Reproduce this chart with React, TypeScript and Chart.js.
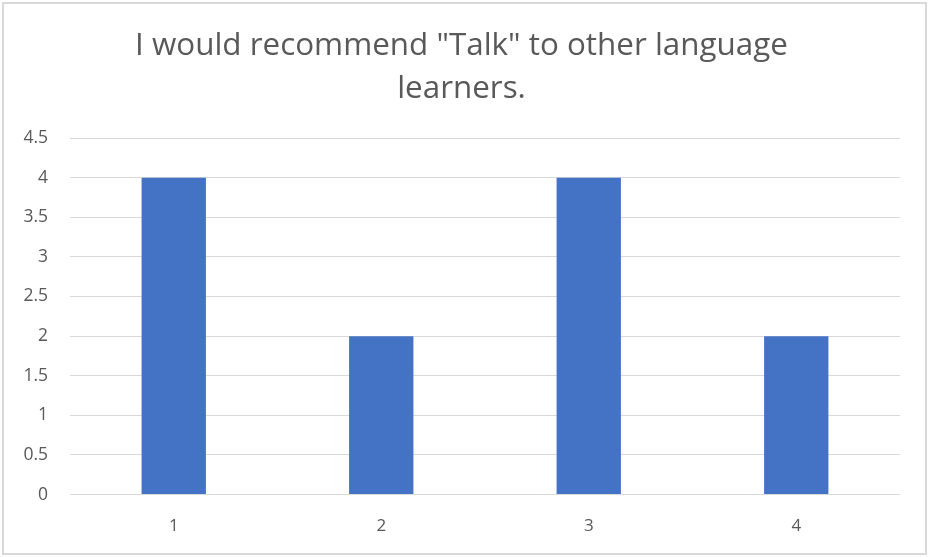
import React, { useEffect, useRef } from "react";
import { Chart, registerables } from "chart.js";

Chart.register(...registerables);

const categories = ["1", "2", "3", "4"];
const values = [4, 2, 4, 2];
const titleLines = ['I would recommend "Talk" to other language', "learners."];
const yMax = 4.5;
const yStep = 0.5;

export default function App() {
  const ref = useRef<HTMLCanvasElement | null>(null);
  useEffect(() => {
    if (!ref.current) return;
    const chart = new Chart(ref.current, {
      type: "bar",
      data: {
        labels: categories,
        datasets: [
          {
            data: values,
            backgroundColor: "#4472C4",
            borderWidth: 0,
            barPercentage: 1,
            categoryPercentage: 0.31,
          },
        ],
      },
      options: {
        animation: false,
        responsive: false,
        layout: { padding: { left: 23, right: 29, top: 18, bottom: 0 } },
        plugins: {
          legend: { display: false },
          tooltip: { enabled: false },
          title: {
            display: true,
            text: titleLines,
            color: "#595959",
            font: { family: "Open Sans", size: 31.4, weight: "normal", lineHeight: 1.37 },
            padding: { top: 6.5, bottom: 27.5 },
          },
        },
        scales: {
          x: {
            grid: { display: false, drawTicks: false },
            border: { display: false },
            ticks: {
              color: "#595959",
              font: { family: "Open Sans", size: 17 },
              padding: 21,
            },
          },
          y: {
            min: 0,
            max: yMax,
            afterFit: (s: any) => {
              s.width = 47;
            },
            grid: { color: "#d9d9d9", lineWidth: 1, drawTicks: false },
            border: { display: false },
            ticks: {
              stepSize: yStep,
              color: "#595959",
              font: { family: "Open Sans", size: 17.5 },
              padding: 22,
              callback: (v: any) => String(Number(v)),
            },
          },
        },
      },
    });
    return () => chart.destroy();
  }, []);
  return (
    <div style={{ position: "fixed", left: 0, top: 0, width: 929, height: 557, background: "#fff" }}>
      <canvas ref={ref} width={929} height={557} style={{ position: "absolute", left: 0, top: 0 }} />
      <div
        style={{
          position: "absolute",
          left: 2,
          top: 2,
          width: 921,
          height: 549,
          border: "2px solid #d9d9d9",
          pointerEvents: "none",
        }}
      />
    </div>
  );
}
